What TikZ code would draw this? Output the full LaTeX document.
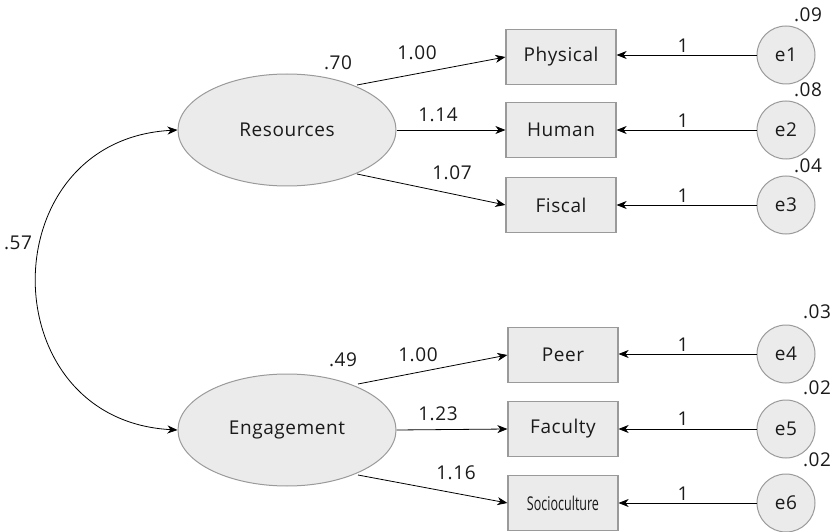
\documentclass[tikz,border=0pt]{standalone}
\usepackage{fontspec}
\setmainfont{Open Sans}[LetterSpace=3]
\usetikzlibrary{shapes.geometric,arrows.meta}
\definecolor{nodefill}{HTML}{EBEBEB}
\definecolor{nodeline}{HTML}{9A9A9A}
\definecolor{ink}{HTML}{1A1A1A}
\begin{document}
\begin{tikzpicture}[x=1pt,y=-1pt,
  every node/.style={font=\fontsize{19}{21}\selectfont,text=ink},
  lat/.style={ellipse,draw=nodeline,fill=nodefill,line width=1pt,minimum width=218pt,minimum height=112pt,inner sep=0pt},
  obs/.style={rectangle,draw=nodeline,fill=nodefill,line width=1.2pt,minimum width=110pt,minimum height=55pt,inner sep=0pt},
  err/.style={circle,draw=nodeline,fill=nodefill,line width=1pt,minimum size=58pt,inner sep=0pt},
  arr/.style={-{Stealth[length=10pt,width=8pt,inset=3pt]},line width=0.8pt},
  lbl/.style={inner sep=0pt}]
\useasboundingbox (0,0) rectangle (833,532);
% latent
\node[lat] (res) at (287,130) {Resources};
\node[lat] (eng) at (287,430) {Engagement};
% observed
\node[obs] (phy) at (561,57) {Physical};
\node[obs] (hum) at (561,130) {Human};
\node[obs] (fis) at (561,205) {Fiscal};
\node[obs] (peer) at (563,355) {Peer};
\node[obs] (fac) at (563,429) {Faculty};
\node[obs] (soc) at (563,503) {\addfontfeature{LetterSpace=0,FakeStretch=0.66}Socioculture};
% errors
\node[err] (e1) at (786,55) {e1};
\node[err] (e2) at (786,130) {e2};
\node[err] (e3) at (786,205) {e3};
\node[err] (e4) at (786,354) {e4};
\node[err] (e5) at (786,429) {e5};
\node[err] (e6) at (786,503) {e6};
% anchors on ellipses
\coordinate (r1) at (357,85);
\coordinate (r3) at (357,174);
\coordinate (g1) at (358,384);
\coordinate (g3) at (358,475);
% loadings
\draw[arr] (r1) -- (phy.west);
\draw[arr] (res.east) -- (hum.west);
\draw[arr] (r3) -- (fis.west);
\draw[arr] (g1) -- (peer.west);
\draw[arr] (eng.east) -- (fac.west);
\draw[arr] (g3) -- (soc.west);
% error arrows
\foreach \e/\o in {e1/phy,e2/hum,e3/fis,e4/peer,e5/fac,e6/soc}
  \draw[arr] (\e.west) -- (\o.east |- \e.west);
% covariance
\draw[{Stealth[length=10pt,width=8pt,inset=3pt]}-{Stealth[length=10pt,width=8pt,inset=3pt]},line width=0.8pt]
  (res.west) .. controls (-10,140) and (-10,420) .. (eng.west);
% labels
\node[lbl] at (338,63) {.70};
\node[lbl] at (417,53) {1.00};
\node[lbl] at (438,115) {1.14};
\node[lbl] at (452,173) {1.07};
\node[lbl] at (343,360) {.49};
\node[lbl] at (418,355) {1.00};
\node[lbl] at (438,414) {1.23};
\node[lbl] at (456,473) {1.16};
\node[lbl] at (18,243) {.57};
\foreach \y in {46,121,196,345,419,494} \node[lbl] at (683,\y) {1};
\node[lbl] at (808,15) {.09};
\node[lbl] at (808,90) {.08};
\node[lbl] at (808,166) {.04};
\node[lbl] at (817,312) {.03};
\node[lbl] at (817,388) {.02};
\node[lbl] at (817,460) {.02};
\end{tikzpicture}
\end{document}
